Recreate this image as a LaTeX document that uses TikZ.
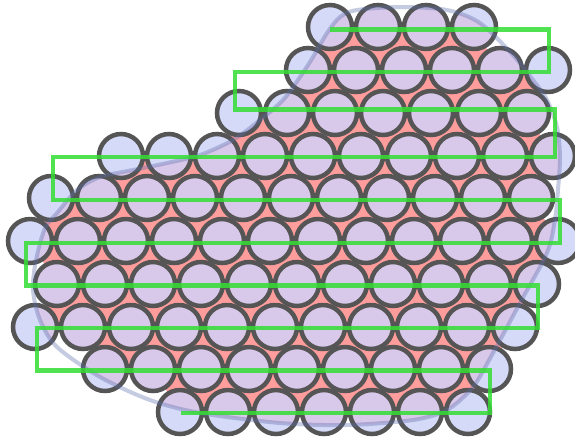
\documentclass[tikz,border=0pt]{standalone}
\usepackage{tikz}
\definecolor{pkDisc}{HTML}{D6DAF9}
\definecolor{pkInside}{HTML}{D8C8EA}
\definecolor{pkRim}{HTML}{555555}
\definecolor{pkVoid}{HTML}{FF9C9C}
\definecolor{pkEdge}{HTML}{5A6AA8}
\definecolor{pkPath}{HTML}{33DD33}

\begin{document}
\begin{tikzpicture}[
  x=0.02cm,y=-0.02cm,
  voids/.style={fill=pkVoid},
  disc/.style={fill=pkDisc},
  rim/.style={draw=pkRim,line width=0.09cm},
  blobedge/.style={draw=pkEdge,draw opacity=0.35,line width=0.08cm},
  scan/.style={draw=pkPath,opacity=0.85,line width=0.09cm}
]
\useasboundingbox (0,0) rectangle (575,441);

\path[voids] (330,27) -- (474,27) -- (499,70) -- (547,70) -- (527,113)
  -- (553,156) -- (531,198) -- (558,241) -- (537,284) -- (515,327)
  -- (489,369) -- (468,412) -- (180,412) -- (153,369) -- (105,369)
  -- (83,327) -- (35,327) -- (57,284) -- (30,241) -- (51,198) -- (99,198)
  -- (121,156) -- (217,156) -- (239,113) -- (287,113) -- (308,70) -- cycle;

\foreach \y/\x/\n in {27/330/4,70/308/6,113/239/7,156/121/10,198/51/11,
                      241/30/12,284/57/11,327/35/11,369/105/9,412/180/7}
  \foreach \i in {1,...,\n}
    \path[disc] ({\x+48*(\i-1)},\y) circle[radius=22];

\begin{scope}
\clip plot[smooth cycle,tension=0.5] coordinates {
  (357,10) (400,7) (447,10) (480,23) (513,55) (533,80) (547,100) (557,127)
  (560,157) (558,190) (555,220) (547,253) (520,303) (493,353) (473,387)
  (447,410) (413,420) (347,425) (280,423) (200,413) (150,400) (100,377)
  (57,347) (40,320) (33,290) (36,260) (45,228) (57,213) (77,190) (100,177)
  (133,170) (167,163) (200,155) (233,140) (260,120) (283,100) (300,77)
  (313,57) (327,33) (340,17)};
\foreach \y/\x/\n in {27/330/4,70/308/6,113/239/7,156/121/10,198/51/11,
                      241/30/12,284/57/11,327/35/11,369/105/9,412/180/7}
  \foreach \i in {1,...,\n}
    \path[disc,fill=pkInside] ({\x+48*(\i-1)},\y) circle[radius=22];
\end{scope}

\foreach \y/\x/\n in {27/330/4,70/308/6,113/239/7,156/121/10,198/51/11,
                      241/30/12,284/57/11,327/35/11,369/105/9,412/180/7}
  \foreach \i in {1,...,\n}
    \draw[rim] ({\x+48*(\i-1)},\y) circle[radius=22];

\path[blobedge] plot[smooth cycle,tension=0.5] coordinates {
  (357,10) (400,7) (447,10) (480,23) (513,55) (533,80) (547,100) (557,127)
  (560,157) (558,190) (555,220) (547,253) (520,303) (493,353) (473,387)
  (447,410) (413,420) (347,425) (280,423) (200,413) (150,400) (100,377)
  (57,347) (40,320) (33,290) (36,260) (45,228) (57,213) (77,190) (100,177)
  (133,170) (167,163) (200,155) (233,140) (260,120) (283,100) (300,77)
  (313,57) (327,33) (340,17)};

\draw[scan] (330,29.5) -- (549,29.5) -- (549,72) -- (235,72) -- (235,109.5)
  -- (555,109.5) -- (555,157) -- (53,157) -- (53,200) -- (560,200) -- (560,243)
  -- (26,243) -- (26,285.5) -- (538,285.5) -- (538,328) -- (37,328)
  -- (37,370.5) -- (490,370.5) -- (490,413) -- (181,413);
\end{tikzpicture}
\end{document}
